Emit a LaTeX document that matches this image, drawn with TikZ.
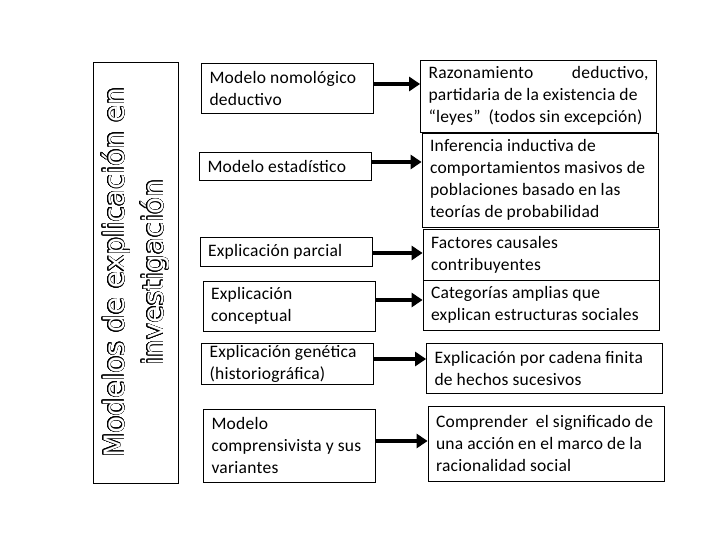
\documentclass[tikz,border=0pt]{standalone}
\usepackage{fontspec}
\setmainfont{Carlito}[LetterSpace=1.5]
\newfontfamily\titlefont{DejaVu Sans}
\usepackage[copies]{contour}
\contourlength{0.5pt}
\contournumber{24}
\usetikzlibrary{arrows.meta}

\begin{document}
\begin{tikzpicture}[x=1pt,y=-1pt,
                >={Triangle[width=14pt,length=11pt]},
                line width=0.8pt,
                main/.style = {draw, inner xsep=8pt, inner ysep=2pt,
                               font=\fontsize{17.5}{22}\selectfont,
                               execute at begin node={\raggedright\spaceskip=0.23em plus 0.1em minus 0.05em\relax}},
                model/.style = {main, text width=156pt},
                expl/.style = {main, text width=220pt},
                flecha/.style = {line width=4pt}]
            \useasboundingbox (0,0) rectangle (720,540);
            % Title
            \node[draw, rotate=90, minimum width=421pt, minimum height=85pt, align=center,
                  text=white, font=\titlefont\fontsize{28}{39}\selectfont]
                  (T) at (135.5,272.5) {\contour{black}{Modelos de explicación en}\\\contour{black}{investigación}};

            % Models
            \node[model, minimum height=50pt] (M1) at (287.5,88) {Modelo nomológico\\deductivo};
            \node[model, minimum height=28pt] (M2) at (285.5,166) {Modelo estadístico};
            \node[model, minimum height=29pt] (M3) at (286,251.5) {Explicación parcial};
            \node[model, minimum height=50pt] (M4) at (289,306) {Explicación\\conceptual};
            \node[model, minimum height=38pt] (M5) at (287.5,364) {Explicación genética\\(historiográfica)};
            \node[model, minimum height=73pt] (M6) at (289.5,445.5) {Modelo\\comprensivista y sus\\variantes};

            % Descriptions
            \node[expl, minimum height=72pt] (D1) at (538.5,96) {Razonamiento\hfill deductivo,\\partidaria de la existencia de\\“leyes”\ \ (todos sin excepción)};
            \node[expl, minimum height=94pt] (D2) at (540,180) {Inferencia inductiva de\\comportamientos masivos de\\poblaciones basado en las\\teorías de probabilidad};
            \node[expl, minimum height=51pt] (D3) at (541,254.5) {Factores causales\\contribuyentes};
            \node[expl, minimum height=50pt] (D4) at (541,305) {Categorías amplias que\\explican estructuras sociales};
            \node[expl, minimum height=50pt] (D5) at (544.5,368) {Explicación por cadena finita\\de hechos sucesivos};
            \node[expl, minimum height=75pt] (D6) at (546,443.5) {Comprender\ \ el significado de\\una acción en el marco de la\\racionalidad social};

            % Arrows
            \foreach \i/\s in {1/4,2/4,3/-1.5,4/6,5/5,6/4.5}{
                \path ([yshift=\s pt]M\i.east) coordinate (a\i);
                \draw[->, flecha] (a\i) -- (a\i -| D\i.west);
            }
        \end{tikzpicture}
\end{document}
